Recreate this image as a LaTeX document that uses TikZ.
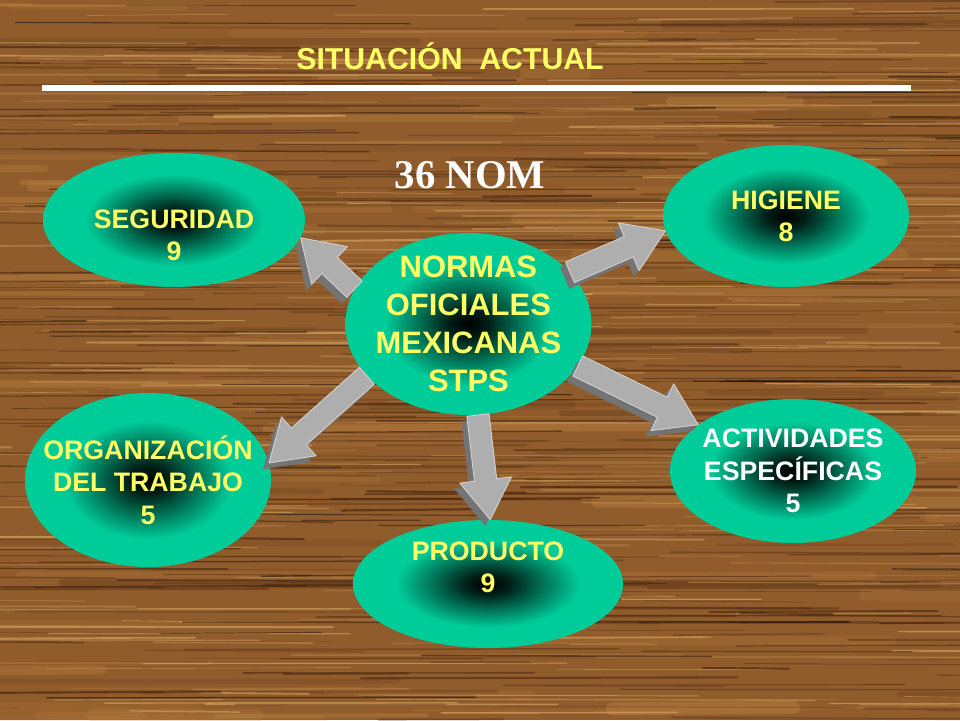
\documentclass[tikz,border=0pt]{standalone}
\usepackage{fontspec}
\setmainfont{Liberation Sans}
\newfontfamily\nomserif{Liberation Serif}
\usetikzlibrary{shapes.geometric, calc}

\definecolor{woodBase}{RGB}{145,92,44}
\definecolor{woodDark}{RGB}{74,40,16}
\definecolor{woodLight}{RGB}{196,140,70}
\definecolor{woodPale}{RGB}{214,168,98}
\definecolor{nomTeal}{RGB}{0,204,153}
\definecolor{nomYellow}{RGB}{255,255,102}
\definecolor{arrowFace}{RGB}{174,174,174}
\definecolor{arrowSide}{RGB}{116,116,116}
\definecolor{arrowEdge}{RGB}{212,212,212}

\pgfdeclareradialshading{myglow}{\pgfpointorigin}{%
    color(0bp)=(black); color(4bp)=(black!85!nomTeal); color(10bp)=(black!45!nomTeal);
    color(17bp)=(nomTeal); color(25bp)=(nomTeal); color(50bp)=(nomTeal)}

\tikzset{
    my-ellipse/.style={
        ellipse, shade, shading=myglow, inner sep=0pt
    },
    my-label/.style={
        font=\bfseries\fontsize{19}{23}\selectfont, text=nomYellow, align=center
    },
    my-arrow-face/.style={
        fill=arrowFace, draw=arrowEdge, line width=0.6pt, line join=round
    },
    my-arrow-side/.style={
        fill=arrowSide, draw=arrowSide, line width=0.6pt, line join=round
    },
}

% BLOCK ARROW FROM #1 TO #2
\newcommand{\myarrow}[2]{%
    \coordinate (NECK) at ($(#2)!1cm!(#1)$);
    \foreach \layer/\dx/\dy in {my-arrow-side/-3.5pt/-4pt, my-arrow-face/0pt/0pt} {
        \filldraw[\layer, transform canvas={shift={(\dx,\dy)}}]
            ($(#1)!0.28cm!90:(#2)$) -- ($(NECK)!0.28cm!90:(#2)$) -- ($(NECK)!0.65cm!90:(#2)$)
            -- (#2) -- ($(NECK)!0.65cm!-90:(#2)$) -- ($(NECK)!0.28cm!-90:(#2)$)
            -- ($(#1)!0.28cm!-90:(#2)$) -- cycle;
    }
}

\begin{document}
\begin{tikzpicture}

        % WOOD BACKGROUND
        \useasboundingbox (0, 0) rectangle (24, 18);
        \fill[woodBase] (0, 0) rectangle (24, 18);
        \begin{scope}
            \clip (0, 0) rectangle (24, 18);
            \pgfmathsetseed{11}
            \foreach \col/\n/\w/\o in {woodLight/70/9/0.25, woodDark/40/7/0.18, woodPale/260/1.2/0.45,
                                       woodDark/300/1.3/0.5, black/60/0.8/0.35} {
                \foreach \i in {1,...,\n} {
                    \pgfmathsetmacro{\yy}{rnd*18}
                    \pgfmathsetmacro{\xx}{rnd*28-4}
                    \pgfmathsetmacro{\len}{2+rnd*9}
                    \pgfmathsetmacro{\lw}{0.3+rnd*\w}
                    \pgfmathsetmacro{\op}{\o*(0.5+rnd)}
                    \draw[\col, line width=\lw pt, opacity=\op, line cap=round] (\xx, \yy) -- ++(\len, rnd*0.08-0.04);
                }
            }
        \end{scope}

        % TITLE AND RULE
        \node[anchor=base, text=nomYellow, font=\bfseries\fontsize{21.5}{25}\selectfont] (TITLE) at (11.25, 16.25) {SITUACIÓN\ \ ACTUAL};
        \coordinate (RULEL) at (1.05, 15.79);
        \coordinate (RULER) at (22.78, 15.79);
        \draw[white, line width=4.25pt] (RULEL) -- (RULER);
        \node[anchor=base, text=white, font=\nomserif\bfseries\fontsize{29}{34}\selectfont] (COUNT) at (11.75, 13.275) {36 NOM};

        % ELLIPSES
        \node[my-ellipse, minimum width=6.55cm, minimum height=3.35cm] (SEG)  at (4.35, 12.5)    {};
        \node[my-ellipse, minimum width=6.15cm, minimum height=3.55cm] (HIG)  at (19.65, 12.6)   {};
        \node[my-ellipse, minimum width=6.15cm, minimum height=4.55cm] (NOM)  at (11.71, 9.9)    {};
        \node[my-ellipse, minimum width=6.15cm, minimum height=4.35cm] (ORG)  at (3.7, 6.0)      {};
        \node[my-ellipse, minimum width=6.15cm, minimum height=3.6cm]  (ACT)  at (19.825, 6.225) {};
        \node[my-ellipse, minimum width=6.75cm, minimum height=3.2cm]  (PROD) at (12.2, 3.4)     {};

        % LABELS
        \node[my-label] (SEGTXT)  at ($(SEG) + (0, -.375)$) {SEGURIDAD\\9};
        \node[my-label] (HIGTXT)  at ($(HIG) + (0, 0)$)     {HIGIENE\\8};
        \node[my-label, font=\bfseries\fontsize{22}{27}\selectfont] (NOMTXT) at (NOM) {NORMAS\\OFICIALES\\MEXICANAS\\STPS};
        \node[my-label] (ORGTXT)  at (ORG)                  {ORGANIZACIÓN\\DEL TRABAJO\\5};
        \node[my-label, text=white] (ACTTXT) at (ACT)       {ACTIVIDADES\\ESPECÍFICAS\\5};
        \node[my-label] (PRODTXT) at ($(PROD) + (0, .41)$)  {PRODUCTO\\9};

        % ARROWS
        \myarrow{NOM.163}{SEG.-8}
        \myarrow{NOM.27}{HIG.187}
        \myarrow{NOM.-21}{ACT.154}
        \myarrow{NOM.-84}{PROD.88}
        \myarrow{NOM.207}{ORG.8}

\end{tikzpicture}
\end{document}
